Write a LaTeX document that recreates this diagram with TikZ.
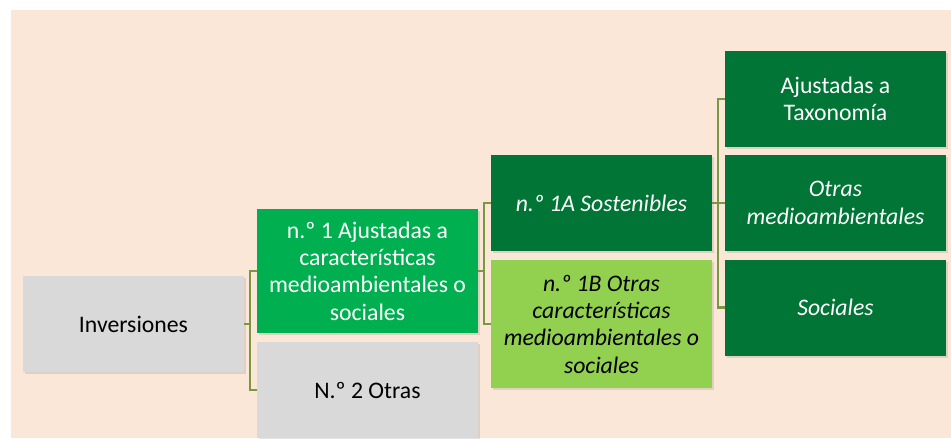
\documentclass[tikz,border=0pt]{standalone}
\usepackage{fontspec}
\setmainfont{Carlito}
\usetikzlibrary{shadows}
\definecolor{melocoton}{RGB}{250,231,215}
\definecolor{gris}{RGB}{217,217,217}
\definecolor{verde}{RGB}{0,176,80}
\definecolor{verdeosc}{RGB}{0,117,54}
\definecolor{verdecla}{RGB}{146,208,80}
\definecolor{oliva}{RGB}{122,152,64}
\begin{document}
\begin{tikzpicture}[x=0.75pt,y=-0.75pt,
caja/.style={minimum width=165.75pt,minimum height=72pt,inner sep=2pt,align=center,
font=\fontsize{17.8}{20.5}\selectfont,
drop shadow={opacity=0.22,shadow xshift=1.5pt,shadow yshift=-1.8pt}},
cursiva/.style={font=\fontsize{17.8}{20.5}\selectfont\itshape},
enlace/.style={draw=oliva,line width=1.6pt}]
\useasboundingbox(0,0)rectangle(951,439);
\fill[melocoton](11,10)rectangle(951,438);
\node[caja,fill=gris](inv)at(133.5,324){Inversiones};
\node[caja,fill=verde,text=white,minimum height=93pt](n1)at(367.5,271)
{n.º 1 Ajustadas a\\características\\medioambientales o\\sociales};
\node[caja,fill=gris](n2)at(367.5,390){N.º 2 Otras};
\node[caja,cursiva,fill=verdeosc,text=white](s1a)at(601.5,203){n.º 1A Sostenibles};
\node[caja,cursiva,fill=verdecla,minimum height=96pt](s1b)at(601.5,324)
{n.º 1B Otras\\características\\medioambientales o\\sociales};
\node[caja,fill=verdeosc,text=white](tax)at(835.5,99){Ajustadas a\\Taxonomía};
\node[caja,cursiva,fill=verdeosc,text=white](oma)at(835.5,203){Otras\\medioambientales};
\node[caja,cursiva,fill=verdeosc,text=white](soc)at(835.5,307.5){Sociales};
\draw[enlace](inv.east)--++(6,0)coordinate(j1)|-(n1.west)(j1)|-(n2.west);
\draw[enlace](n1.east)--++(6,0)coordinate(j2)|-(s1a.west)(j2)|-(s1b.west);
\draw[enlace](s1a.east)--++(6,0)coordinate(j3)|-(tax.west)(j3)|-(oma.west)(j3)|-(soc.west);
\end{tikzpicture}
\end{document}
